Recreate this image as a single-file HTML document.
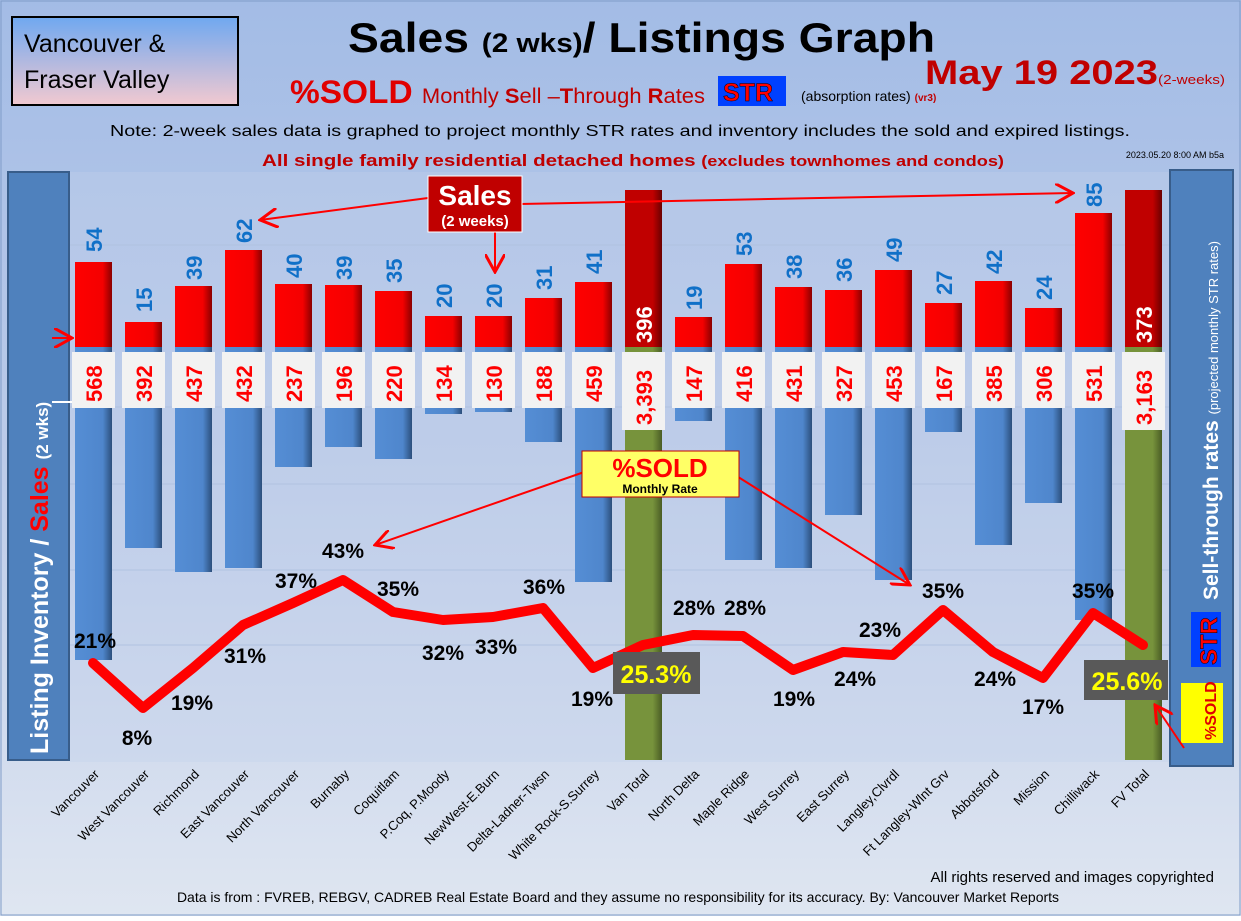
<!DOCTYPE html>
<html><head><meta charset="utf-8"><style>
body{margin:0;width:1241px;height:916px;overflow:hidden;font-family:"Liberation Sans",sans-serif}
</style></head><body>
<svg width="1241" height="916" xmlns="http://www.w3.org/2000/svg" font-family="Liberation Sans, DejaVu Sans, sans-serif">
<defs>
<linearGradient id="bg" x1="0" y1="0" x2="0" y2="1"><stop offset="0" stop-color="#a3bce6"/><stop offset="0.5" stop-color="#bccbe9"/><stop offset="1" stop-color="#dfe6f1"/></linearGradient>
<linearGradient id="red" x1="0" y1="0" x2="1" y2="0"><stop offset="0" stop-color="#ff0000"/><stop offset="0.75" stop-color="#f40000"/><stop offset="1" stop-color="#8a0000"/></linearGradient>
<linearGradient id="dred" x1="0" y1="0" x2="1" y2="0"><stop offset="0" stop-color="#c00000"/><stop offset="0.75" stop-color="#c00000"/><stop offset="1" stop-color="#6a0000"/></linearGradient>
<linearGradient id="blue" x1="0" y1="0" x2="1" y2="0"><stop offset="0" stop-color="#558ed5"/><stop offset="0.75" stop-color="#4f86cc"/><stop offset="1" stop-color="#2c4f7c"/></linearGradient>
<linearGradient id="grn" x1="0" y1="0" x2="1" y2="0"><stop offset="0" stop-color="#77933c"/><stop offset="0.75" stop-color="#77933c"/><stop offset="1" stop-color="#4a5c25"/></linearGradient>
<linearGradient id="tl" x1="0" y1="0" x2="0" y2="1"><stop offset="0" stop-color="#6fa8f0"/><stop offset="1" stop-color="#f2c9d0"/></linearGradient>
<marker id="ar" markerWidth="10" markerHeight="10" refX="9" refY="5" orient="auto"><path d="M0,0 L9,5 L0,10" fill="none" stroke="#f00" stroke-width="1.5"/></marker>
</defs>
<rect width="1241" height="916" fill="url(#bg)"/>
<rect x="1" y="1" width="1239" height="914" fill="none" stroke="#7f9cc8"/>
<rect x="12" y="17" width="226" height="88" fill="url(#tl)" stroke="#000" stroke-width="2"/>
<text x="24" y="52" font-size="25">Vancouver &amp;</text>
<text x="24" y="88" font-size="25">Fraser Valley</text>
<text x="348" y="52" font-size="42" font-weight="bold" textLength="587" lengthAdjust="spacingAndGlyphs">Sales <tspan font-size="27">(2 wks)</tspan>/ Listings Graph</text>
<text x="925" y="84" font-size="34" font-weight="bold" fill="#c00000" textLength="300" lengthAdjust="spacingAndGlyphs">May 19  2023<tspan font-size="13" font-weight="normal">(2-weeks)</tspan></text>
<text x="290" y="103" font-size="32" font-weight="bold" fill="#e00000" textLength="415" lengthAdjust="spacingAndGlyphs">%SOLD <tspan font-size="21" font-weight="normal" fill="#c00000">Monthly <tspan font-weight="bold">S</tspan>ell –<tspan font-weight="bold">T</tspan>hrough <tspan font-weight="bold">R</tspan>ates</tspan></text>
<rect x="718" y="76" width="68" height="30" fill="#0040ff"/>
<text x="723" y="101" font-size="25" font-weight="bold" fill="#ff0000" stroke="#000" stroke-width="0.5">STR</text>
<text x="801" y="101" font-size="14">(absorption rates) <tspan font-size="10" fill="#c00000" font-weight="bold">(vr3)</tspan></text>
<text x="620" y="136" font-size="16" text-anchor="middle" textLength="1020" lengthAdjust="spacingAndGlyphs">Note: 2-week sales data is graphed to project monthly STR rates and inventory includes the sold and expired listings.</text>
<text x="633" y="166" font-size="17" font-weight="bold" fill="#c00000" text-anchor="middle" textLength="742" lengthAdjust="spacingAndGlyphs">All single family residential detached homes <tspan font-size="15">(excludes townhomes and condos)</tspan></text>
<text x="1224" y="158" font-size="9" text-anchor="end">2023.05.20 8:00 AM b5a</text>
<rect x="70" y="172" width="1100" height="590" fill="#c4d2ec" opacity="0.35"/>
<g stroke="#b0c2e0" stroke-width="1">
<line x1="70" y1="245" x2="1170" y2="245"/><line x1="70" y1="407" x2="1170" y2="407"/><line x1="70" y1="484" x2="1170" y2="484"/><line x1="70" y1="570" x2="1170" y2="570"/><line x1="70" y1="645" x2="1170" y2="645"/>
</g>
<rect x="8" y="172" width="61" height="588" fill="#4f81bd" stroke="#385d8a" stroke-width="2"/>
<text transform="translate(48,754) rotate(-90)" font-size="25" font-weight="bold" fill="#fff">Listing Inventory / <tspan fill="#ff0000">Sales</tspan> <tspan font-size="17">(2  wks)</tspan></text>
<line x1="52" y1="338" x2="72" y2="338" stroke="#f00" stroke-width="2" marker-end="url(#ar)"/>
<line x1="52" y1="402" x2="72" y2="402" stroke="#fff" stroke-width="2"/>
<rect x="1170" y="170" width="63" height="596" fill="#4f81bd" stroke="#385d8a" stroke-width="2"/>
<text transform="translate(1218,600) rotate(-90)" font-size="21" font-weight="bold" fill="#fff">Sell-through rates <tspan font-size="13" font-weight="normal">  (projected monthly STR rates)</tspan></text>
<rect x="1191" y="612" width="30" height="55" fill="#0040ff"/>
<text transform="translate(1217,665) rotate(-90)" font-size="24" font-weight="bold" fill="#f00" stroke="#000" stroke-width="0.5">STR</text>
<rect x="1181" y="683" width="42" height="60" fill="#ffff00"/>
<text transform="translate(1216,740) rotate(-90)" font-size="16" font-weight="bold" fill="#e00000">%SOLD</text>
<g>
<rect x="75" y="347" width="37" height="313" fill="url(#blue)"/>
<rect x="125" y="347" width="37" height="201" fill="url(#blue)"/>
<rect x="175" y="347" width="37" height="225" fill="url(#blue)"/>
<rect x="225" y="347" width="37" height="221" fill="url(#blue)"/>
<rect x="275" y="347" width="37" height="120" fill="url(#blue)"/>
<rect x="325" y="347" width="37" height="100" fill="url(#blue)"/>
<rect x="375" y="347" width="37" height="112" fill="url(#blue)"/>
<rect x="425" y="347" width="37" height="67" fill="url(#blue)"/>
<rect x="475" y="347" width="37" height="65" fill="url(#blue)"/>
<rect x="525" y="347" width="37" height="95" fill="url(#blue)"/>
<rect x="575" y="347" width="37" height="235" fill="url(#blue)"/>
<rect x="625" y="347" width="37" height="413" fill="url(#grn)"/>
<rect x="675" y="347" width="37" height="74" fill="url(#blue)"/>
<rect x="725" y="347" width="37" height="213" fill="url(#blue)"/>
<rect x="775" y="347" width="37" height="221" fill="url(#blue)"/>
<rect x="825" y="347" width="37" height="168" fill="url(#blue)"/>
<rect x="875" y="347" width="37" height="233" fill="url(#blue)"/>
<rect x="925" y="347" width="37" height="85" fill="url(#blue)"/>
<rect x="975" y="347" width="37" height="198" fill="url(#blue)"/>
<rect x="1025" y="347" width="37" height="156" fill="url(#blue)"/>
<rect x="1075" y="347" width="37" height="273" fill="url(#blue)"/>
<rect x="1125" y="347" width="37" height="413" fill="url(#grn)"/>
</g>
<g>
<rect x="75" y="262" width="37" height="85" fill="url(#red)"/>
<rect x="125" y="322" width="37" height="25" fill="url(#red)"/>
<rect x="175" y="286" width="37" height="61" fill="url(#red)"/>
<rect x="225" y="250" width="37" height="97" fill="url(#red)"/>
<rect x="275" y="284" width="37" height="63" fill="url(#red)"/>
<rect x="325" y="285" width="37" height="62" fill="url(#red)"/>
<rect x="375" y="291" width="37" height="56" fill="url(#red)"/>
<rect x="425" y="316" width="37" height="31" fill="url(#red)"/>
<rect x="475" y="316" width="37" height="31" fill="url(#red)"/>
<rect x="525" y="298" width="37" height="49" fill="url(#red)"/>
<rect x="575" y="282" width="37" height="65" fill="url(#red)"/>
<rect x="625" y="190" width="37" height="157" fill="url(#dred)"/>
<rect x="675" y="317" width="37" height="30" fill="url(#red)"/>
<rect x="725" y="264" width="37" height="83" fill="url(#red)"/>
<rect x="775" y="287" width="37" height="60" fill="url(#red)"/>
<rect x="825" y="290" width="37" height="57" fill="url(#red)"/>
<rect x="875" y="270" width="37" height="77" fill="url(#red)"/>
<rect x="925" y="303" width="37" height="44" fill="url(#red)"/>
<rect x="975" y="281" width="37" height="66" fill="url(#red)"/>
<rect x="1025" y="308" width="37" height="39" fill="url(#red)"/>
<rect x="1075" y="213" width="37" height="134" fill="url(#red)"/>
<rect x="1125" y="190" width="37" height="157" fill="url(#dred)"/>
</g>
<g fill="#f2f2f2">
<rect x="72" y="352" width="43" height="56"/><rect x="122" y="352" width="43" height="56"/><rect x="172" y="352" width="43" height="56"/><rect x="222" y="352" width="43" height="56"/><rect x="272" y="352" width="43" height="56"/><rect x="322" y="352" width="43" height="56"/><rect x="372" y="352" width="43" height="56"/><rect x="422" y="352" width="43" height="56"/><rect x="472" y="352" width="43" height="56"/><rect x="522" y="352" width="43" height="56"/><rect x="572" y="352" width="43" height="56"/><rect x="622" y="352" width="43" height="78"/><rect x="672" y="352" width="43" height="56"/><rect x="722" y="352" width="43" height="56"/><rect x="772" y="352" width="43" height="56"/><rect x="822" y="352" width="43" height="56"/><rect x="872" y="352" width="43" height="56"/><rect x="922" y="352" width="43" height="56"/><rect x="972" y="352" width="43" height="56"/><rect x="1022" y="352" width="43" height="56"/><rect x="1072" y="352" width="43" height="56"/><rect x="1122" y="352" width="43" height="78"/>
</g>
<g font-size="22" font-weight="bold" fill="#f00">
<text transform="translate(102,402) rotate(-90)">568</text>
<text transform="translate(152,402) rotate(-90)">392</text>
<text transform="translate(202,402) rotate(-90)">437</text>
<text transform="translate(252,402) rotate(-90)">432</text>
<text transform="translate(302,402) rotate(-90)">237</text>
<text transform="translate(352,402) rotate(-90)">196</text>
<text transform="translate(402,402) rotate(-90)">220</text>
<text transform="translate(452,402) rotate(-90)">134</text>
<text transform="translate(502,402) rotate(-90)">130</text>
<text transform="translate(552,402) rotate(-90)">188</text>
<text transform="translate(602,402) rotate(-90)">459</text>
<text transform="translate(652,425) rotate(-90)">3,393</text>
<text transform="translate(702,402) rotate(-90)">147</text>
<text transform="translate(752,402) rotate(-90)">416</text>
<text transform="translate(802,402) rotate(-90)">431</text>
<text transform="translate(852,402) rotate(-90)">327</text>
<text transform="translate(902,402) rotate(-90)">453</text>
<text transform="translate(952,402) rotate(-90)">167</text>
<text transform="translate(1002,402) rotate(-90)">385</text>
<text transform="translate(1052,402) rotate(-90)">306</text>
<text transform="translate(1102,402) rotate(-90)">531</text>
<text transform="translate(1152,425) rotate(-90)">3,163</text>
</g>
<g font-size="22" font-weight="bold" fill="#1070c8">
<text transform="translate(102,252) rotate(-90)">54</text>
<text transform="translate(152,312) rotate(-90)">15</text>
<text transform="translate(202,280) rotate(-90)">39</text>
<text transform="translate(252,243) rotate(-90)">62</text>
<text transform="translate(302,278) rotate(-90)">40</text>
<text transform="translate(352,280) rotate(-90)">39</text>
<text transform="translate(402,283) rotate(-90)">35</text>
<text transform="translate(452,308) rotate(-90)">20</text>
<text transform="translate(502,308) rotate(-90)">20</text>
<text transform="translate(552,290) rotate(-90)">31</text>
<text transform="translate(602,274) rotate(-90)">41</text>
<text transform="translate(702,310) rotate(-90)">19</text>
<text transform="translate(752,256) rotate(-90)">53</text>
<text transform="translate(802,279) rotate(-90)">38</text>
<text transform="translate(852,282) rotate(-90)">36</text>
<text transform="translate(902,262) rotate(-90)">49</text>
<text transform="translate(952,295) rotate(-90)">27</text>
<text transform="translate(1002,274) rotate(-90)">42</text>
<text transform="translate(1052,300) rotate(-90)">24</text>
<text transform="translate(1102,207) rotate(-90)">85</text>
</g>
<g font-size="22" font-weight="bold" fill="#fff">
<text transform="translate(652,343) rotate(-90)">396</text>
<text transform="translate(1152,343) rotate(-90)">373</text>
</g>
<line x1="428" y1="198" x2="260" y2="220" stroke="#f00" stroke-width="2" marker-end="url(#ar)"/>
<line x1="520" y1="204" x2="1073" y2="193" stroke="#f00" stroke-width="2" marker-end="url(#ar)"/>
<line x1="495" y1="230" x2="495" y2="272" stroke="#f00" stroke-width="2" marker-end="url(#ar)"/>
<rect x="428" y="176" width="94" height="56" fill="#c00000" stroke="#fff" stroke-width="1"/>
<text x="475" y="205" font-size="28" font-weight="bold" fill="#fff" text-anchor="middle">Sales</text>
<text x="475" y="226" font-size="15" font-weight="bold" fill="#fff" text-anchor="middle">(2 weeks)</text>
<polyline points="93,663 143,708 193,668 243,625 293,603 343,580 393,612 443,620 493,617 543,608 593,668 643,645 693,635 743,636 793,670 843,652 893,655 943,610 993,652 1043,678 1093,613 1143,645" fill="none" stroke="#ff0000" stroke-width="10" stroke-linejoin="round" stroke-linecap="round"/>
<line x1="590" y1="470" x2="375" y2="545" stroke="#f00" stroke-width="2" marker-end="url(#ar)"/>
<line x1="735" y1="475" x2="910" y2="585" stroke="#f00" stroke-width="2" marker-end="url(#ar)"/>
<rect x="582" y="451" width="157" height="46" fill="#ffff66" stroke="#c00000" stroke-width="1"/>
<text x="660" y="477" font-size="26" font-weight="bold" fill="#f00" text-anchor="middle">%SOLD</text>
<text x="660" y="493" font-size="12" font-weight="bold" text-anchor="middle">Monthly Rate</text>
<g font-size="21" font-weight="bold" fill="#000" text-anchor="middle">
<text x="95" y="648">21%</text><text x="137" y="745">8%</text><text x="192" y="710">19%</text><text x="245" y="663">31%</text><text x="296" y="588">37%</text><text x="343" y="558">43%</text><text x="398" y="596">35%</text><text x="443" y="660">32%</text><text x="496" y="654">33%</text><text x="544" y="594">36%</text><text x="592" y="706">19%</text><text x="694" y="615">28%</text><text x="745" y="615">28%</text><text x="794" y="706">19%</text><text x="855" y="686">24%</text><text x="880" y="637">23%</text><text x="943" y="598">35%</text><text x="995" y="686">24%</text><text x="1043" y="714">17%</text><text x="1093" y="598">35%</text>
</g>
<rect x="613" y="652" width="87" height="42" fill="#595959"/>
<text x="656" y="683" font-size="25" font-weight="bold" fill="#ffff00" text-anchor="middle">25.3%</text>
<rect x="1084" y="660" width="84" height="40" fill="#595959"/>
<text x="1127" y="690" font-size="25" font-weight="bold" fill="#ffff00" text-anchor="middle">25.6%</text>
<line x1="1184" y1="748" x2="1155" y2="705" stroke="#f00" stroke-width="2" marker-end="url(#ar)"/>
<g font-size="13" text-anchor="end">
<text transform="translate(100,775) rotate(-45)">Vancouver</text>
<text transform="translate(150,775) rotate(-45)">West Vancouver</text>
<text transform="translate(200,775) rotate(-45)">Richmond</text>
<text transform="translate(250,775) rotate(-45)">East Vancouver</text>
<text transform="translate(300,775) rotate(-45)">North Vancouver</text>
<text transform="translate(350,775) rotate(-45)">Burnaby</text>
<text transform="translate(400,775) rotate(-45)">Coquitlam</text>
<text transform="translate(450,775) rotate(-45)">P.Coq, P.Moody</text>
<text transform="translate(500,775) rotate(-45)">NewWest-E.Burn</text>
<text transform="translate(550,775) rotate(-45)">Delta-Ladner-Twsn</text>
<text transform="translate(600,775) rotate(-45)">White Rock-S.Surrey</text>
<text transform="translate(650,775) rotate(-45)">Van Total</text>
<text transform="translate(700,775) rotate(-45)">North Delta</text>
<text transform="translate(750,775) rotate(-45)">Maple Ridge</text>
<text transform="translate(800,775) rotate(-45)">West Surrey</text>
<text transform="translate(850,775) rotate(-45)">East Surrey</text>
<text transform="translate(900,775) rotate(-45)">Langley,Clvrdl</text>
<text transform="translate(950,775) rotate(-45)">Ft Langley-Wlnt Grv</text>
<text transform="translate(1000,775) rotate(-45)">Abbotsford</text>
<text transform="translate(1050,775) rotate(-45)">Mission</text>
<text transform="translate(1100,775) rotate(-45)">Chilliwack</text>
<text transform="translate(1150,775) rotate(-45)">FV Total</text>
</g>
<text x="1214" y="882" font-size="15" text-anchor="end">All rights reserved and  images copyrighted</text>
<text x="618" y="902" font-size="14" text-anchor="middle">Data is from : FVREB, REBGV, CADREB Real Estate Board and they assume no responsibility for its accuracy. By: Vancouver Market Reports</text>
</svg>
</body></html>
